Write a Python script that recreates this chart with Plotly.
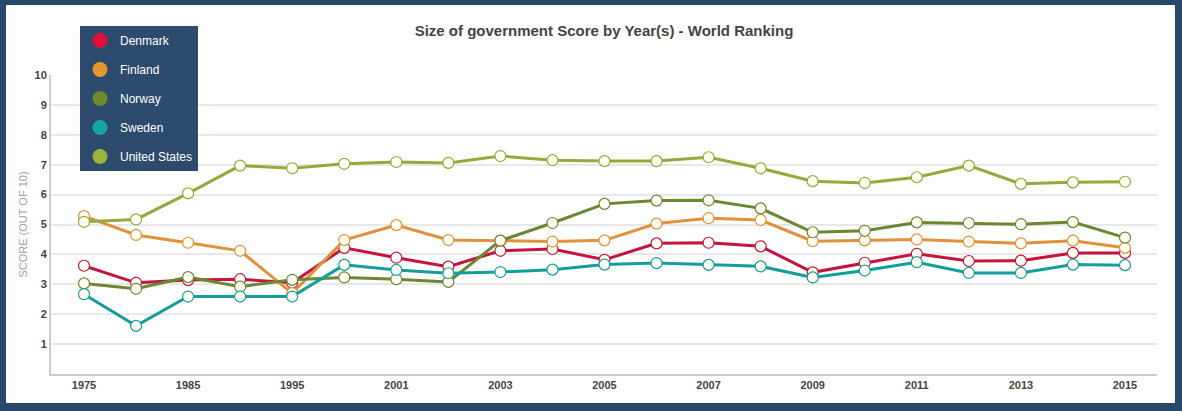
import plotly.graph_objects as go

years = ["1975", "1980", "1985", "1990", "1995", "2000", "2001", "2002", "2003", "2004",
         "2005", "2006", "2007", "2008", "2009", "2010", "2011", "2012", "2013", "2014", "2015"]

denmark = [3.62, 3.05, 3.14, 3.17, 3.05, 4.22, 3.89, 3.59, 4.12, 4.18,
           3.82, 4.37, 4.39, 4.27, 3.40, 3.72, 4.02, 3.78, 3.79, 4.05, 4.05]
finland = [5.28, 4.65, 4.39, 4.12, 2.70, 4.48, 4.98, 4.48, 4.46, 4.43,
           4.47, 5.03, 5.21, 5.15, 4.44, 4.47, 4.50, 4.43, 4.37, 4.46, 4.22]
norway = [3.03, 2.85, 3.24, 2.92, 3.15, 3.23, 3.17, 3.08, 4.46, 5.05,
          5.69, 5.80, 5.81, 5.54, 4.74, 4.79, 5.07, 5.05, 5.01, 5.08, 4.56]
sweden = [2.67, 1.61, 2.59, 2.59, 2.59, 3.65, 3.48, 3.37, 3.41, 3.49,
          3.66, 3.71, 3.65, 3.60, 3.23, 3.46, 3.74, 3.38, 3.38, 3.66, 3.64]
united_states = [5.09, 5.17, 6.04, 6.97, 6.88, 7.03, 7.09, 7.06, 7.29, 7.15,
                 7.12, 7.12, 7.25, 6.88, 6.45, 6.39, 6.58, 6.97, 6.36, 6.41, 6.43]

series_names = ["Denmark", "Finland", "Norway", "Sweden", "United States"]
series_values = [denmark, finland, norway, sweden, united_states]
line_colors = ["#c4143f", "#e0913a", "#6b8732", "#149d9d", "#95a93c"]
legend_colors = ["#e0103a", "#e8962e", "#6f8a2c", "#16a6a6", "#9bb43c"]

x_tick_labels = years[::2]
y_ticks = list(range(1, 11))

fig = go.Figure()

for name, vals, col in zip(series_names, series_values, line_colors):
    fig.add_trace(go.Scatter(
        x=years, y=vals, mode="lines+markers", name=name, showlegend=False,
        line=dict(color=col, width=3),
        marker=dict(size=11, color="#fffff4", line=dict(color=col, width=1.2)),
    ))

for i, (name, col) in enumerate(zip(series_names, legend_colors)):
    fig.add_trace(go.Scatter(
        x=[None], y=[None], mode="markers", name=name, legendgroup=f"g{i}",
        marker=dict(size=15, color=col),
    ))

W, H = 1182, 411
L, R, T, B = 51, 25, 75, 37
pw, ph = W - L - R, H - T - B

def px_to_paper_x(px):
    return (px - L) / pw

def px_to_paper_y(py):
    return (H - B - py) / ph

fig.add_shape(type="rect", xref="paper", yref="paper",
              x0=px_to_paper_x(6), x1=px_to_paper_x(1175),
              y0=px_to_paper_y(403), y1=px_to_paper_y(5),
              fillcolor="white", line=dict(width=0), layer="below")

fig.update_layout(
    width=W, height=H,
    margin=dict(l=L, r=R, t=T, b=B, pad=0),
    paper_bgcolor="#29496c",
    plot_bgcolor="rgba(0,0,0,0)",
    font=dict(family="Liberation Sans, Arial, sans-serif", color="#333"),
    title=dict(text="<b>Size of government Score by Year(s) - World Ranking</b>",
               x=0.5, xref="paper", xanchor="center",
               y=1 - 31 / H, yanchor="middle",
               font=dict(size=15, color="#444")),
    legend=dict(
        x=px_to_paper_x(80), y=px_to_paper_y(26), xanchor="left", yanchor="top",
        bgcolor="#2c4b6d", borderwidth=0,
        font=dict(size=12, color="white"),
        traceorder="grouped", tracegroupgap=10,
        itemwidth=30,
    ),
    xaxis=dict(
        type="category", categoryorder="array", categoryarray=years,
        range=[-0.634, 20.615],
        tickmode="array", tickvals=x_tick_labels,
        ticktext=[f"<b>{t}</b>" for t in x_tick_labels],
        showgrid=False, showline=True, linecolor="#cccccc", linewidth=2,
        ticks="", tickfont=dict(size=11, color="#444"),
        zeroline=False,
    ),
    yaxis=dict(
        range=[0, 10], tickmode="array", tickvals=y_ticks,
        ticktext=[f"<b>{v}</b>" for v in y_ticks],
        showgrid=True, gridcolor="#e8e8e8", gridwidth=2,
        showline=True, linecolor="#cccccc", linewidth=2,
        zeroline=False, ticks="", ticklen=0,
        tickfont=dict(size=11, color="#444"),
        title=dict(text="SCORE (OUT OF 10)", font=dict(size=11, color="#a0a0a0"), standoff=5),
    ),
)

fig.write_html(
    "out.html",
    config={"displayModeBar": False},
    post_script="document.body.style.margin='0';document.body.style.overflow='hidden';",
)
